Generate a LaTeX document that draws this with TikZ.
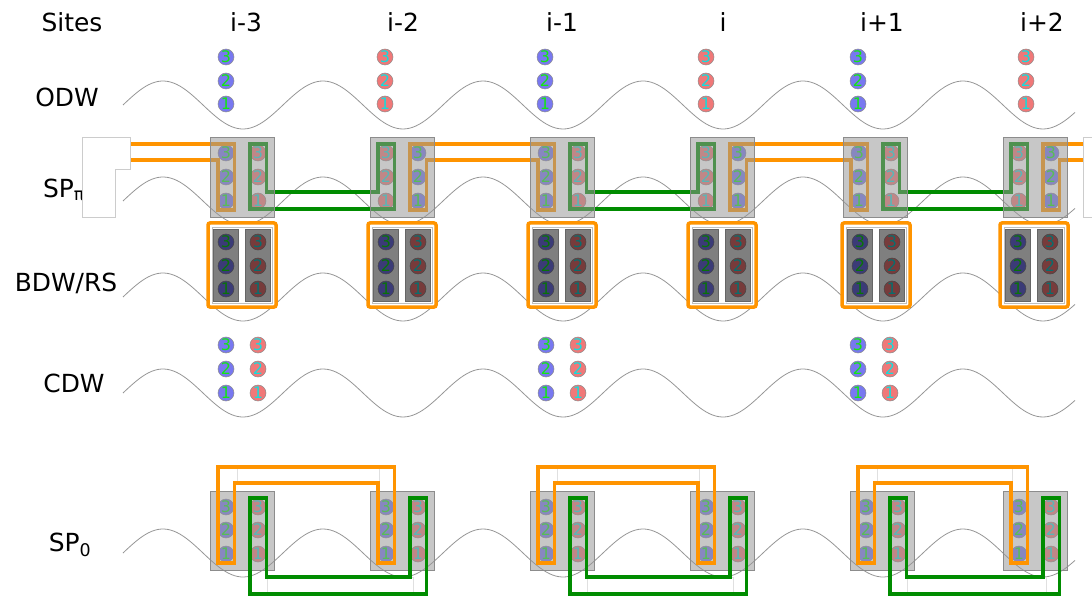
\documentclass[tikz,border=0pt]{standalone}
\usepackage{fontspec}
\setmainfont{DejaVu Sans}
\usepackage{xcolor}
\usepackage{tikz}
\usetikzlibrary{positioning}
\definecolor{cblue}{RGB}{120,120,240}
\definecolor{cred}{RGB}{240,120,120}
\definecolor{cnumg}{RGB}{20,230,20}
\definecolor{cnumc}{RGB}{20,220,220}
\definecolor{corange}{RGB}{255,148,0}
\definecolor{cgreen}{RGB}{0,140,0}
\definecolor{cwave}{RGB}{150,150,150}
\definecolor{cveil}{RGB}{150,150,150}

% one sine wave per row, troughs under the sites (period 160)
\newcommand{\sitewave}[1]{\draw[wave] plot[domain=123:1075,samples=300] (\x,{#1-24*sin(2.25*(\x-123))});}

\begin{document}
\begin{tikzpicture}[x=1bp,y=-1bp,font=\fontsize{25}{30}\selectfont,
  wave/.style={draw=cwave,line width=0.8bp},
  bdot/.style={circle,draw=black!45,line width=0.5bp,fill=cblue,text=cnumg,minimum size=16bp,inner sep=0pt,font=\fontsize{16}{16}\selectfont},
  rdot/.style={bdot,fill=cred,text=cnumc},
  spbox/.style={draw=black!45,line width=0.7bp,fill=cveil,fill opacity=0.53,minimum width=64bp,minimum height=80bp,inner sep=0pt},
  rsbox/.style={draw=corange,line width=3.5bp,rounded corners=2bp,fill=white,minimum width=68bp,minimum height=84bp,inner sep=0pt},
  rsinner/.style={draw=black!25,line width=0.5bp,minimum width=60bp,minimum height=76bp,inner sep=0pt},
  rscol/.style={draw=black!60,line width=0.5bp,fill=black,fill opacity=0.5,minimum width=25bp,minimum height=72bp,inner sep=0pt},
  oloop/.style={draw=corange,line width=3.5bp},
  gloop/.style={draw=cgreen,line width=3.5bp},
  edgebox/.style={draw=black!20,line width=0.7bp,fill=white},
  ghost/.style={draw=black!12,line width=0.5bp}]
\useasboundingbox (0,0) rectangle (1092,597);

% ================= header =================
\node (lblSites) at (72,22) {Sites};
\foreach \cx/\t [count=\k] in {246/i-3,403/i-2,562/i-1,723/i,882/i+1,1042/i+2}
  \node (site\k) at (\cx,22) {\t};

% ================= ODW =================
\node (lblODW) at (67,97) {ODW};
\sitewave{105}
\foreach \cx/\sty [count=\k] in {226/bdot,385/rdot,545/bdot,706/rdot,858/bdot,1026/rdot}
  \foreach \n/\y in {3/57,2/81,1/104}
    \node[\sty] (odw\k\n) at (\cx,\y) {\n};

% ================= SP_pi =================
\node (lblSPpi) at (64,190) {SP\textsubscript{π}};
\sitewave{201}
\foreach \cx/\lsty/\rsty [count=\k] in {242/bdot/rdot,402/rdot/bdot,562/bdot/rdot,722/rdot/bdot,875/bdot/rdot,1035/rdot/bdot}
  \foreach \n/\y in {3/153,2/177,1/201}{
    \node[\lsty] (pl\k\n) at (\cx-16,\y) {\n};
    \node[\rsty] (pr\k\n) at (\cx+16,\y) {\n};
  }
\coordinate (piTop) at (0,144);
\coordinate (piMid) at (0,160);
\coordinate (piBot) at (0,210);
\coordinate (piGmid) at (0,192);
\coordinate (piGbot) at (0,209);
\coordinate (piLeft) at (130,0);
\coordinate (piRight) at (1083,0);
% orange pairs the blue columns
\draw[oloop] (piLeft |- piTop) -- (pl13.east |- piTop) -- (pl13.east |- piBot) -- (pl13.west |- piBot) -- (pl13.west |- piMid) -- (piLeft |- piMid);
\foreach \ia/\ib in {2/3,4/5}
  \draw[oloop] (pr\ia3.west |- piTop) -- (pl\ib3.east |- piTop) -- (pl\ib3.east |- piBot) -- (pl\ib3.west |- piBot)
    -- (pl\ib3.west |- piMid) -- (pr\ia3.east |- piMid) -- (pr\ia3.east |- piBot) -- (pr\ia3.west |- piBot) -- cycle;
\draw[oloop] (piRight |- piTop) -- (pr63.west |- piTop) -- (pr63.west |- piBot) -- (pr63.east |- piBot) -- (pr63.east |- piMid) -- (piRight |- piMid);
% green pairs the red columns
\foreach \ia/\ib in {1/2,3/4,5/6}
  \draw[gloop] (pr\ia3.west |- piTop) -- (pr\ia3.east |- piTop) -- (pr\ia3.east |- piGmid) -- (pl\ib3.west |- piGmid)
    -- (pl\ib3.west |- piTop) -- (pl\ib3.east |- piTop) -- (pl\ib3.east |- piGbot) -- (pr\ia3.west |- piGbot) -- cycle;
\foreach \cx [count=\k] in {242,402,562,722,875,1035}
  \node[spbox] (pibox\k) at (\cx,177) {};
\draw[edgebox] (82,137) -- (130,137) -- (130,169) -- (115,169) -- (115,217) -- (82,217) -- cycle;
\draw[ghost,draw=black!20,line width=0.7bp] (1092,137) -- (1083,137) -- (1083,217) -- (1092,217);

% ================= BDW/RS =================
\node (lblBDW) at (66,283) {BDW/RS};
\sitewave{297}
\foreach \cx [count=\k] in {242,402,562,722,876,1034}{
  \node[rsbox] (rsbox\k) at (\cx,265) {};
  \node[rsinner] (rsin\k) at (\cx,265) {};
  \foreach \n/\y in {3/242,2/266,1/289}{
    \node[bdot] (rl\k\n) at (\cx-16,\y) {\n};
    \node[rdot] (rr\k\n) at (\cx+16,\y) {\n};
  }
  \node[rscol] (rscolL\k) at (\cx-16,265) {};
  \node[rscol] (rscolR\k) at (\cx+16,265) {};
}

% ================= CDW =================
\node (lblCDW) at (74,383) {CDW};
\sitewave{393}
\foreach \cx [count=\k] in {242,562,874}
  \foreach \n/\y in {3/345,2/369,1/393}{
    \node[bdot] (cl\k\n) at (\cx-16,\y) {\n};
    \node[rdot] (cr\k\n) at (\cx+16,\y) {\n};
  }

% ================= SP_0 =================
\node (lblSP0) at (70,545) {SP\textsubscript{0}};
\sitewave{553}
\foreach \cx [count=\k] in {242,402,562,722,882,1035}
  \foreach \n/\y in {3/507,2/530,1/554}{
    \node[bdot] (zl\k\n) at (\cx-16,\y) {\n};
    \node[rdot] (zr\k\n) at (\cx+16,\y) {\n};
  }
\foreach \cx [count=\k] in {242,402,562,722,882,1035}
  \node[spbox,minimum height=79bp] (zbox\k) at (\cx,530.5) {};
\coordinate (zTop) at (0,467);
\coordinate (zIn) at (0,483);
\coordinate (zBot) at (0,563);
\coordinate (zgTop) at (0,498);
\coordinate (zgIn) at (0,577);
\coordinate (zgBot) at (0,594);
\foreach \ia/\ib in {1/2,3/4,5/6}{
  \draw[ghost] ([xshift=3bp]zl\ia3.east |- zTop) rectangle ([xshift=1bp]zl\ib3.west |- zIn);
  \draw[ghost] ([xshift=1bp]zr\ia3.east |- zgIn) rectangle ([xshift=3bp]zr\ib3.west |- zgBot);
  \draw[oloop] (zl\ia3.west |- zTop) -- (zl\ib3.east |- zTop) -- (zl\ib3.east |- zBot) -- (zl\ib3.west |- zBot)
    -- (zl\ib3.west |- zIn) -- (zl\ia3.east |- zIn) -- (zl\ia3.east |- zBot) -- (zl\ia3.west |- zBot) -- cycle;
  \draw[gloop] (zr\ia3.west |- zgTop) -- (zr\ia3.east |- zgTop) -- (zr\ia3.east |- zgIn) -- (zr\ib3.west |- zgIn)
    -- (zr\ib3.west |- zgTop) -- (zr\ib3.east |- zgTop) -- (zr\ib3.east |- zgBot) -- (zr\ia3.west |- zgBot) -- cycle;
}
\end{tikzpicture}
\end{document}
